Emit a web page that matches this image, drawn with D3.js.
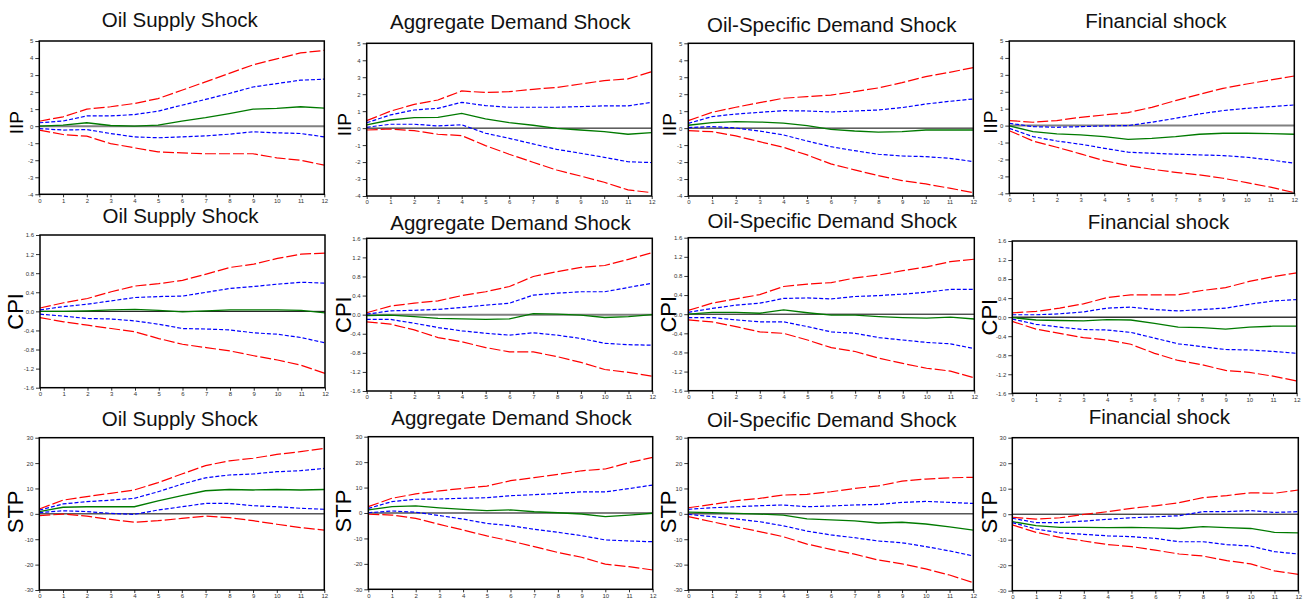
<!DOCTYPE html>
<html><head><meta charset="utf-8">
<script src="https://cdn.jsdelivr.net/npm/d3@7"></script>
<style>
body{margin:0;background:#fff}
svg{display:block}
text{font-family:"Liberation Sans",Arial,sans-serif}
</style>
</head><body>
<svg id="chart" width="1308" height="601"></svg>
<script>
// ---------- DATA ----------
const shocks = ["Oil Supply Shock","Aggregate Demand Shock","Oil-Specific Demand Shock","Financial shock"];
const variables = ["IIP","CPI","STP"];
const horizons = [0,1,2,3,4,5,6,7,8,9,10,11,12];
const yTicksIIP = [-4,-3,-2,-1,0,1,2,3,4,5];
const yTicksCPI = [-1.6,-1.2,-0.8,-0.4,0.0,0.4,0.8,1.2,1.6];
const yTicksSTP = [-30,-20,-10,0,10,20,30];
const seriesNames = ["Upper band (outer)","Upper band (inner)","Response","Lower band (inner)","Lower band (outer)"];

// each panel: [outer upper, inner upper, response, inner lower, outer lower]
const iipOilSupply = [
  [0.29,0.55,1.0,1.14,1.33,1.62,2.11,2.6,3.1,3.6,3.95,4.3,4.45],
  [0.2,0.3,0.6,0.6,0.68,0.88,1.23,1.57,1.92,2.3,2.5,2.7,2.76],
  [0.0,0.06,0.2,0.04,0.0,0.06,0.3,0.5,0.74,1.0,1.04,1.14,1.06],
  [-0.14,-0.23,-0.2,-0.43,-0.63,-0.68,-0.63,-0.57,-0.47,-0.33,-0.39,-0.43,-0.63],
  [-0.23,-0.49,-0.59,-1.02,-1.27,-1.51,-1.57,-1.62,-1.62,-1.62,-1.86,-2.0,-2.29]];
const iipAggDemand = [
  [0.44,1.0,1.4,1.66,2.19,2.1,2.15,2.29,2.4,2.6,2.8,2.9,3.33],
  [0.32,0.78,1.07,1.17,1.52,1.33,1.23,1.23,1.23,1.27,1.31,1.31,1.52],
  [0.19,0.48,0.62,0.64,0.87,0.54,0.32,0.17,-0.01,-0.11,-0.21,-0.36,-0.27],
  [0.05,0.23,0.23,0.13,0.2,-0.3,-0.6,-0.93,-1.25,-1.48,-1.72,-1.98,-2.03],
  [-0.11,-0.05,-0.15,-0.36,-0.44,-1.03,-1.54,-2.01,-2.47,-2.82,-3.19,-3.64,-3.8]];
const iipOilSpecific = [
  [0.44,0.93,1.23,1.5,1.76,1.86,1.95,2.15,2.37,2.68,3.04,3.29,3.57],
  [0.28,0.68,0.83,0.93,1.03,1.01,0.95,1.01,1.07,1.21,1.42,1.58,1.72],
  [0.17,0.32,0.38,0.36,0.3,0.15,-0.07,-0.17,-0.23,-0.21,-0.11,-0.11,-0.11],
  [0.03,0.09,0.01,-0.17,-0.4,-0.76,-1.09,-1.33,-1.54,-1.64,-1.68,-1.78,-1.97],
  [-0.15,-0.21,-0.46,-0.8,-1.13,-1.58,-2.11,-2.46,-2.8,-3.09,-3.29,-3.54,-3.8]];
const iipFinancial = [
  [0.3,0.2,0.3,0.49,0.63,0.77,1.08,1.48,1.85,2.2,2.46,2.7,2.93],
  [0.14,-0.06,-0.1,-0.06,-0.02,0.0,0.2,0.43,0.69,0.89,1.02,1.12,1.22],
  [-0.02,-0.35,-0.49,-0.55,-0.65,-0.81,-0.75,-0.65,-0.51,-0.45,-0.45,-0.47,-0.51],
  [-0.16,-0.65,-0.91,-1.1,-1.34,-1.57,-1.63,-1.69,-1.73,-1.77,-1.87,-2.03,-2.22],
  [-0.3,-0.91,-1.28,-1.67,-2.07,-2.36,-2.58,-2.76,-2.91,-3.11,-3.37,-3.64,-3.96]];
const cpiOilSupply = [
  [0.07,0.18,0.27,0.41,0.53,0.58,0.65,0.78,0.92,0.99,1.11,1.2,1.22],
  [0.03,0.1,0.15,0.22,0.29,0.31,0.32,0.4,0.48,0.52,0.57,0.61,0.59],
  [0.0,0.0,0.01,0.03,0.04,0.02,-0.01,0.01,0.03,0.03,0.03,0.02,-0.03],
  [-0.06,-0.1,-0.15,-0.16,-0.2,-0.27,-0.36,-0.37,-0.39,-0.45,-0.48,-0.55,-0.66],
  [-0.13,-0.22,-0.29,-0.36,-0.43,-0.57,-0.69,-0.76,-0.83,-0.93,-1.02,-1.13,-1.3]];
const cpiAggDemand = [
  [0.04,0.18,0.24,0.29,0.4,0.48,0.59,0.8,0.9,0.99,1.03,1.16,1.3],
  [0.01,0.08,0.09,0.11,0.15,0.2,0.24,0.41,0.45,0.48,0.48,0.57,0.66],
  [-0.02,-0.01,-0.04,-0.08,-0.09,-0.1,-0.09,0.02,0.01,-0.01,-0.06,-0.04,0.0],
  [-0.1,-0.1,-0.18,-0.27,-0.34,-0.39,-0.43,-0.38,-0.43,-0.5,-0.6,-0.63,-0.64],
  [-0.15,-0.2,-0.32,-0.48,-0.57,-0.69,-0.78,-0.78,-0.88,-1.0,-1.15,-1.21,-1.29]];
const cpiOilSpecific = [
  [0.08,0.23,0.32,0.41,0.58,0.63,0.66,0.76,0.82,0.91,0.99,1.1,1.15],
  [0.04,0.12,0.19,0.23,0.33,0.34,0.32,0.37,0.39,0.42,0.46,0.52,0.52],
  [0.0,0.04,0.04,0.02,0.09,0.03,-0.02,-0.02,-0.05,-0.07,-0.08,-0.06,-0.1],
  [-0.07,-0.07,-0.12,-0.16,-0.16,-0.26,-0.37,-0.4,-0.49,-0.54,-0.59,-0.62,-0.72],
  [-0.12,-0.16,-0.26,-0.37,-0.4,-0.54,-0.7,-0.78,-0.92,-1.03,-1.13,-1.19,-1.33]];
const cpiFinancial = [
  [0.09,0.12,0.19,0.28,0.41,0.47,0.47,0.47,0.56,0.62,0.75,0.85,0.93],
  [0.05,0.05,0.07,0.11,0.19,0.21,0.16,0.13,0.16,0.19,0.27,0.34,0.37],
  [-0.01,-0.06,-0.07,-0.08,-0.05,-0.06,-0.13,-0.21,-0.22,-0.25,-0.21,-0.19,-0.19],
  [-0.04,-0.15,-0.21,-0.26,-0.27,-0.32,-0.44,-0.56,-0.62,-0.68,-0.69,-0.72,-0.76],
  [-0.09,-0.25,-0.34,-0.43,-0.48,-0.57,-0.76,-0.91,-1.0,-1.12,-1.16,-1.24,-1.34]];
const stpOilSupply = [
  [1.9,5.4,6.8,8.1,9.4,12.3,15.7,19.0,20.9,21.9,23.4,24.5,25.8],
  [1.5,3.9,4.8,5.4,6.1,8.7,11.7,14.2,15.3,15.7,16.6,17.0,17.9],
  [0.9,2.6,2.8,2.8,2.8,5.1,7.2,9.1,9.6,9.4,9.6,9.4,9.6],
  [0.5,1.2,0.9,0.2,-0.2,1.5,2.8,4.1,4.1,3.2,2.8,2.2,1.8],
  [-0.7,-0.1,-0.9,-2.2,-3.3,-2.7,-1.8,-0.9,-1.5,-2.7,-4.1,-5.4,-6.4]];
const stpAggDemand = [
  [2.5,5.8,7.5,8.7,9.7,10.6,12.7,13.9,15.2,16.6,17.3,19.8,21.9],
  [1.8,4.5,5.4,5.5,5.8,6.0,6.8,7.2,7.7,8.3,8.3,9.6,11.0],
  [1.2,2.5,2.8,2.0,1.4,0.9,1.2,0.5,0.1,-0.4,-1.4,-0.8,-0.1],
  [0.1,0.8,0.3,-1.0,-2.4,-4.1,-5.0,-6.4,-7.6,-8.9,-10.6,-11.0,-11.3],
  [-0.5,-0.8,-2.1,-4.5,-6.7,-9.0,-11.0,-13.2,-15.5,-17.4,-20.1,-21.1,-22.4]];
const stpOilSpecific = [
  [2.4,3.7,5.2,6.1,7.4,7.7,8.7,10.0,11.0,12.9,13.7,14.2,14.4],
  [1.8,2.4,2.8,3.2,3.5,2.8,3.1,3.5,3.7,4.5,4.9,4.5,4.1],
  [0.7,0.5,0.2,-0.1,-0.5,-2.0,-2.4,-2.8,-3.6,-3.3,-4.0,-5.1,-6.4],
  [-0.2,-1.1,-2.0,-3.1,-4.7,-6.8,-8.3,-9.4,-10.7,-11.4,-12.9,-14.6,-16.6],
  [-1.1,-3.1,-5.1,-7.0,-9.0,-11.9,-14.0,-15.9,-18.2,-19.7,-21.7,-24.1,-27.1]];
const stpFinancial = [
  [-1.2,-1.9,-1.4,-0.1,1.0,2.3,3.3,4.5,6.5,7.3,8.4,8.2,9.5],
  [-1.6,-3.3,-3.3,-2.7,-2.0,-1.4,-1.0,-0.6,1.0,1.0,1.4,0.7,1.0],
  [-2.9,-4.5,-5.2,-5.2,-5.3,-5.2,-5.4,-5.6,-4.9,-5.3,-5.6,-7.1,-7.3],
  [-3.3,-5.8,-7.3,-7.9,-8.5,-8.8,-9.5,-10.8,-10.8,-11.9,-12.5,-14.7,-15.6],
  [-4.2,-7.1,-9.1,-10.5,-11.9,-12.7,-14.1,-15.6,-16.4,-18.2,-19.5,-22.2,-23.6]];

// ---------- LAYOUT / STYLE ----------
const panelData = [
  [iipOilSupply, iipAggDemand, iipOilSpecific, iipFinancial],
  [cpiOilSupply, cpiAggDemand, cpiOilSpecific, cpiFinancial],
  [stpOilSupply, stpAggDemand, stpOilSpecific, stpFinancial]];
const rowTicks = [yTicksIIP, yTicksCPI, yTicksSTP];
const rowFormat = [v => String(v), v => v.toFixed(1), v => String(v)];
const boxes = [
  [[39.3,41,324.3,194.3],[366.7,43.3,651.7,196],[688.3,43.3,973.3,196],[1009.3,41,1294.3,193.3]],
  [[40,235,325,387.7],[366.7,238.3,652.3,391],[688.3,237.7,974.3,390.7],[1012.3,241,1296.7,393.3]],
  [[39.3,437.7,324.3,590],[368.3,436.7,652.7,589.3],[688.3,437.7,973.3,590],[1012.3,437.7,1298.3,590.7]]];
const titleBase = [[27,29,32,28],[223,230,228,229],[426,425,427,424]];
const titleShift = [-2,1,1,4];
const labelX = [23,351,676,997];
const labelSize = [19,22,22];
const labelShift = [5,0,-2];
const zeroColors = [["#808080","#000","#000","#808080"],["#000","#808080","#000","#333"],["#000","#000","#000","#000"]];
const zeroWidths = [[2,1,1,2],[1,2,1,1.5],[1,1,1,1]];
const seriesColors = ["#ff0000","#0000ff","#007a00","#0000ff","#ff0000"];
const seriesDash = ["11,3","4,2",null,"4,2","11,3"];

// ---------- DRAW ----------
const svg = d3.select("#chart");
variables.forEach((v, r) => {
  shocks.forEach((s, c) => {
    const [x0,y0,x1,y1] = boxes[r][c];
    const ticks = rowTicks[r];
    const x = d3.scaleLinear().domain([0,12]).range([x0,x1]);
    const y = d3.scaleLinear().domain([ticks[0], ticks[ticks.length-1]]).range([y1,y0]);
    const g = svg.append("g");

    // title
    g.append("text").attr("x",(x0+x1)/2 + titleShift[c]).attr("y",titleBase[r][c])
      .attr("text-anchor","middle").attr("font-size",20.5).attr("fill","#111").text(s);
    // y label
    const cy = (y0+y1)/2 + labelShift[r];
    g.append("text").attr("transform",`translate(${labelX[c]},${cy}) rotate(-90)`)
      .attr("text-anchor","middle").attr("font-size",labelSize[r]).attr("fill","#000").text(v);

    // axes
    const ya = g.append("g").attr("transform",`translate(${x0},0)`)
      .call(d3.axisLeft(y).tickValues(ticks).tickSize(4).tickPadding(2).tickFormat(rowFormat[r]));
    const xa = g.append("g").attr("transform",`translate(0,${y1})`)
      .call(d3.axisBottom(x).tickValues(horizons).tickSize(3).tickPadding(1).tickFormat(d => String(d)));
    [ya, xa].forEach(a => {
      a.select(".domain").remove();
      a.selectAll("line").attr("stroke","#333");
      a.selectAll("text").attr("font-size",6).attr("fill","#333").attr("font-family","Liberation Sans, Arial, sans-serif");
    });

    // zero line
    g.append("line").attr("x1",x0).attr("x2",x1).attr("y1",y(0)).attr("y2",y(0))
      .attr("stroke",zeroColors[r][c]).attr("stroke-width",zeroWidths[r][c]);

    // series
    const line = d3.line().x((d,i) => x(horizons[i])).y(d => y(d));
    const data = panelData[r][c];
    [2,1,3,0,4].forEach(k => {
      g.append("path").datum(data[k]).attr("d",line)
        .attr("fill","none").attr("stroke",seriesColors[k])
        .attr("stroke-width",k===2?1.3:1.2)
        .attr("stroke-dasharray",seriesDash[k])
        .append("title").text(seriesNames[k]);
    });

    // frame
    g.append("rect").attr("x",x0).attr("y",y0).attr("width",x1-x0).attr("height",y1-y0)
      .attr("fill","none").attr("stroke","#000").attr("stroke-width",1.5);
  });
});
</script>
</body></html>
